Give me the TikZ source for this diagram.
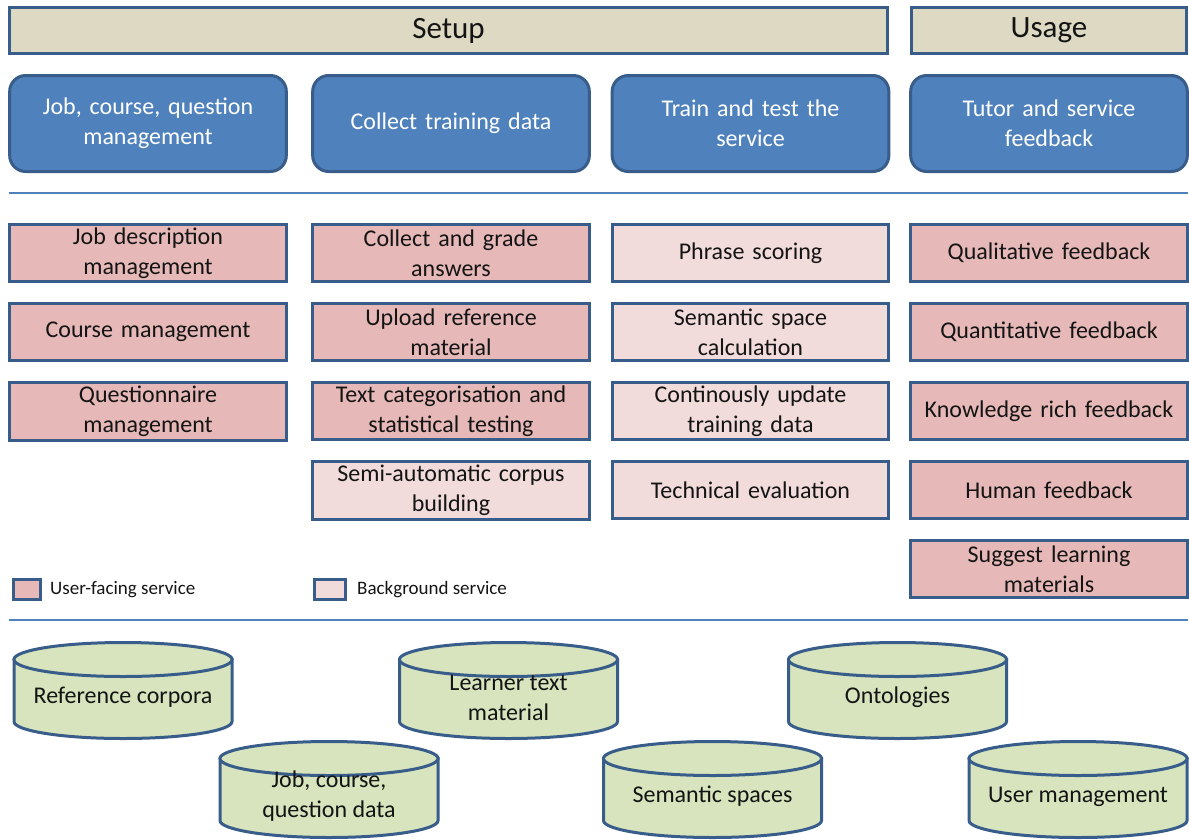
\documentclass[tikz,border=0pt]{standalone}
\usepackage{fontspec}
\setmainfont{Carlito}
\usetikzlibrary{positioning}
\definecolor{barbeige}{HTML}{DDD9C3}
\definecolor{phaseblue}{HTML}{4F81BD}
\definecolor{edgeblue}{HTML}{385D8A}
\definecolor{userpink}{HTML}{E6B9B8}
\definecolor{backpink}{HTML}{F2DCDB}
\definecolor{storegreen}{HTML}{D7E4BD}
\definecolor{textgray}{HTML}{141414}

\newcommand\datastore[4]{%
  \filldraw[store] (#2-109,#3) -- (#2-109,#3+62)
    arc[start angle=180,end angle=0,x radius=109,y radius=17] -- (#2+109,#3) -- cycle;
  \filldraw[store] (#2,#3) ellipse [x radius=109,y radius=17];
  \node (#1) at (#2,#3+38) {#4};}

\begin{document}
\begin{tikzpicture}[x=1pt,y=-1pt,node distance=19pt,
    every node/.style={font=\fontsize{24}{30}\selectfont,align=center,text=textgray},
    phase/.style={draw=edgeblue,line width=3pt,fill=barbeige,minimum height=46pt,
                  font=\fontsize{31}{36}\selectfont},
    stage/.style={draw=edgeblue,line width=3pt,fill=phaseblue,rounded corners=16pt,
                  minimum width=275pt,minimum height=96pt,text width=270pt,text=white},
    user/.style={draw=edgeblue,line width=3pt,fill=userpink,
                 minimum width=275pt,minimum height=57pt,text width=270pt},
    back/.style={user,fill=backpink},
    keybox/.style={draw=edgeblue,line width=3pt,minimum height=20pt},
    keytext/.style={font=\fontsize{19}{22}\selectfont,inner sep=0pt},
    store/.style={draw=edgeblue,line width=3pt,fill=storegreen},
    divider/.style={draw=phaseblue,line width=1.5pt}]

\useasboundingbox (0,0) rectangle (1189,839);

\node[phase,minimum width=878pt] (setup) at (448.5,30.5) {Setup};
\node[phase,minimum width=275pt] (usage) at (1049,30.5) {Usage};

\node[stage] (jobs)  at (148,123.5)  {Job, course, question\\management};
\node[stage] (train) at (451,123.5)  {Collect training data};
\node[stage] (test)  at (750.5,123.5) {Train and test the\\service};
\node[stage] (tutor) at (1049,123.5) {Tutor and service\\feedback};

\coordinate (topleft) at (9,193);
\coordinate (topright) at (1188,193);
\draw[divider] (topleft) -- (topright);

\node[user] (jobdesc) at (148,253) {Job description\\management};
\node[user] (coursemgmt) [below=of jobdesc] {Course management};
\node[user] (questmgmt) [below=of coursemgmt] {Questionnaire\\management};

\node[user] (collect) at (451,253) {Collect and grade\\answers};
\node[user] (upload) [below=of collect] {Upload reference\\material};
\node[user] (textcat) [below=of upload] {Text categorisation and\\statistical testing};
\node[back] (corpus) [below=of textcat] {Semi-automatic corpus\\building};

\node[back] (phrase) at (750.5,253) {Phrase scoring};
\node[back] (semspace) [below=of phrase] {Semantic space\\calculation};
\node[back] (update) [below=of semspace] {Continously update\\training data};
\node[back] (techeval) [below=of update] {Technical evaluation};

\node[user] (qualfb) at (1049,253) {Qualitative feedback};
\node[user] (quantfb) [below=of qualfb] {Quantitative feedback};
\node[user] (knowfb) [below=of quantfb] {Knowledge rich feedback};
\node[user] (humanfb) [below=of knowfb] {Human feedback};
\node[user] (suggest) [below=of humanfb] {Suggest learning\\materials};

\node[keybox,fill=userpink,minimum width=27pt] (userkey) at (27,589.5) {};
\node[keytext,right=8pt of userkey] (userlabel) {User-facing service};
\node[keybox,fill=backpink,minimum width=31pt] (backkey) at (330,589.5) {};
\node[keytext,right=10pt of backkey] (backlabel) {Background service};

\coordinate (lowleft) at (9,620);
\coordinate (lowright) at (1188,620);
\draw[divider] (lowleft) -- (lowright);

\datastore{refcorp}{123}{659.5}{Reference corpora}
\datastore{learner}{508.5}{659.5}{Learner text\\material}
\datastore{onto}{897.5}{659.5}{Ontologies}
\datastore{jobdata}{329}{758.5}{Job, course,\\question data}
\datastore{semspaces}{712.5}{758.5}{Semantic spaces}
\datastore{usermgmt}{1078}{758.5}{User management}

\end{tikzpicture}
\end{document}
